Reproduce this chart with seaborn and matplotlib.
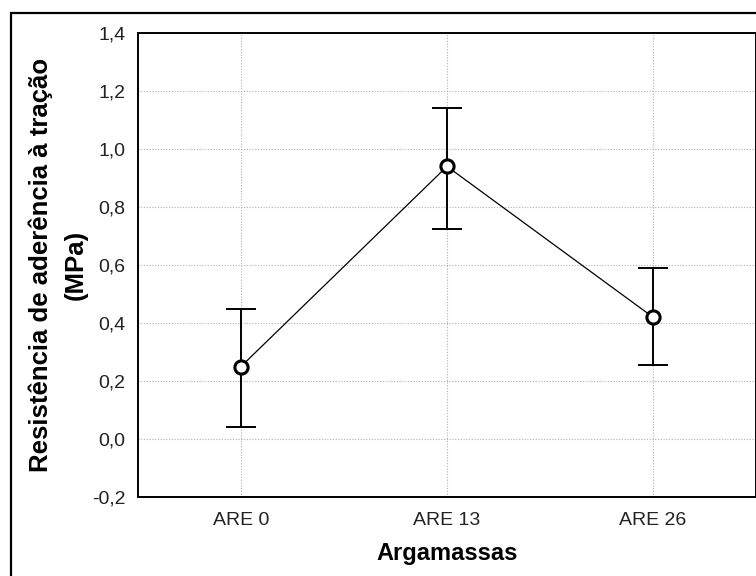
import matplotlib
matplotlib.use("Agg")
import matplotlib.pyplot as plt
import seaborn as sns
import pandas as pd
from matplotlib.patches import Rectangle

categories = ["ARE 0", "ARE 13", "ARE 26"]
means = [0.25, 0.94, 0.42]
lower = [0.04, 0.725, 0.255]
upper = [0.45, 1.14, 0.59]
yticks = [-0.2, 0.0, 0.2, 0.4, 0.6, 0.8, 1.0, 1.2, 1.4]
ytick_labels = ["-0,2", "0,0", "0,2", "0,4", "0,6", "0,8", "1,0", "1,2", "1,4"]

sns.set_theme(style="white")
plt.rcParams["font.family"] = ["Liberation Sans", "DejaVu Sans"]

df = pd.DataFrame({"cat": categories, "mean": means})

fig = plt.figure(figsize=(7.56, 5.76), dpi=100)
ax = fig.add_axes([138 / 756, 79 / 576, 618 / 756, 464 / 576])

# error bars
yerr = [[m - l for m, l in zip(means, lower)], [u - m for m, u in zip(means, upper)]]
ax.errorbar(range(len(categories)), means, yerr=yerr, fmt="none",
            ecolor="black", elinewidth=1.4, capsize=11, capthick=1.4, zorder=3)
sns.lineplot(data=df, x="cat", y="mean", ax=ax, color="black", linewidth=0.9,
             sort=False, zorder=4)
ax.plot(range(len(categories)), means, linestyle="none", marker="o", markersize=9.5,
        markerfacecolor="white", markeredgecolor="black", markeredgewidth=2.2, zorder=5)

ax.set_xlim(-0.5, 2.5)
ax.set_ylim(-0.2, 1.4)
ax.set_xticks(range(len(categories)))
ax.set_xticklabels(categories)
ax.set_yticks(yticks)
ax.set_yticklabels(ytick_labels)

ax.grid(True, color="#b0b0b0", linestyle=(0, (1, 1.5)), linewidth=0.8)
ax.set_axisbelow(True)
for s in ax.spines.values():
    s.set_color("black")
    s.set_linewidth(1.4)

ax.tick_params(axis="both", labelsize=14, colors="#222222", length=3,
               direction="out", pad=6)
ax.tick_params(axis="x", pad=8)
ax.tick_params(axis="both", color="black")

ax.set_xlabel("Argamassas", fontsize=17, fontweight="bold", labelpad=9, color="black")
ax.set_ylabel("Resistência de aderência à tração\n(MPa)", fontsize=18.5,
              fontweight="bold", labelpad=3, color="black", linespacing=1.55)

# outer frame
fig.patches.append(Rectangle((11 / 756, -0.2), 2.0, (576 - 13) / 576 + 0.2,
                             transform=fig.transFigure, fill=False,
                             edgecolor="black", linewidth=1.6, figure=fig))

fig.savefig("out.png", dpi=100)
